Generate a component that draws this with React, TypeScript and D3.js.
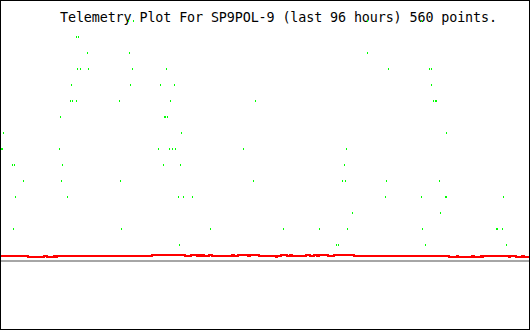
import React from "react";
import * as d3 from "d3";

const W = 530;
const H = 330;
const TITLE = "Telemetry Plot For SP9POL-9 (last 96 hours) 560 points.";

// Green telemetry samples: time (hours into the 96 h window) and level
const greenHours = [
  23.18, 24.09, 66.48, 76.26,
  13.77, 14.13,
  15.76, 23.37, 66.48,
  13.95, 14.49, 15.94, 23.91, 30.07, 70.28, 77.71, 78.07,
  12.86, 23.55, 28.98, 31.52, 78.07,
  12.68, 13.04, 13.77, 21.55, 30.79, 46.19, 78.43, 78.79, 78.97,
  10.87, 29.71, 29.89, 30.25,
  0.54, 32.79, 80.78,
  0.18, 0.36, 10.69, 28.62, 30.61, 31.15, 31.7, 44.02, 62.67,
  2.17, 2.54, 11.23, 29.52, 32.6, 62.31,
  4.17, 11.05, 21.74, 45.83, 61.95, 62.49, 69.92, 79.52,
  2.72, 12.14, 32.24, 33.15, 34.78, 69.74, 76.26, 80.6, 80.78, 91.11,
  63.76, 79.7,
  2.35, 21.92, 38.04, 51.26, 57.78, 62.85, 76.44, 89.84, 90.02, 90.93,
  32.42, 60.86, 61.22, 76.98, 91.66,
];
const greenLevels = [
  15, 15, 15, 15,
  14, 14,
  13, 13, 13,
  12, 12, 12, 12, 12, 12, 12, 12,
  11, 11, 11, 11, 11,
  10, 10, 10, 10, 10, 10, 10, 10, 10,
  9, 9, 9, 9,
  8, 8, 8,
  7, 7, 7, 7, 7, 7, 7, 7, 7,
  6, 6, 6, 6, 6, 6,
  5, 5, 5, 5, 5, 5, 5, 5,
  4, 4, 4, 4, 4, 4, 4, 4, 4, 4,
  3, 3,
  2, 2, 2, 2, 2, 2, 2, 2, 2, 2,
  1, 1, 1, 1, 1,
];

// Red series: step changes (hour at which the value starts)
const redHours = [
  0, 5.07, 7.97, 8.51, 9.78, 10.14, 10.32, 27.53, 33.51, 34.6, 35.68, 35.86,
  36.23, 36.59, 36.95, 37.86, 38.4, 42.02, 42.39, 43.11, 44.92, 45.28, 46.91,
  49.99, 50.17, 50.9, 51.98, 52.53, 52.89, 55.43, 56.15, 56.87, 57.42, 57.78,
  59.41, 60.5, 64.12, 81.33, 82.78, 82.96, 85.49, 85.86, 87.12, 87.31, 87.49,
  92.2, 92.38, 93.46, 94.55, 94.91, 96,
];
const N = 0.3125, L = 0.25, Hi = 0.375;
const redValues = [
  N, L, N, L, N, L, N, Hi, N, Hi, N, Hi,
  N, Hi, N, Hi, N, Hi, N, Hi, N, Hi, N,
  L, N, Hi, N, Hi, N, Hi, N, Hi, N, Hi,
  N, Hi, N, L, N, L, N, L, N, L, N,
  L, N, L, N, L, L,
];

const baseline = [0, 96];

export default function App() {
  const x = d3.scaleLinear().domain([0, 96]).range([0, W]);
  const y = d3.scaleLinear().domain([0, 16]).range([261, 5]);

  const redData = redHours.map((h, i) => [h, redValues[i]] as [number, number]);
  const redPath = d3
    .line<[number, number]>()
    .x((d) => x(d[0]))
    .y((d) => y(d[1]))
    .curve(d3.curveStepAfter)(redData) || "";

  const dots = greenHours.map((h, i) => ({ h, v: greenLevels[i] }));

  return (
    <svg
      width={W}
      height={H}
      style={{ position: "absolute", left: 0, top: 0, background: "#fff" }}
      shapeRendering="crispEdges"
    >
      <rect x={0} y={0} width={W} height={H} fill="#fff" />
      <defs>
        <clipPath id="plotClip">
          <rect x={1} y={1} width={W - 2} height={H - 2} />
        </clipPath>
      </defs>
      <g clipPath="url(#plotClip)">
        <line
          x1={x(baseline[0])}
          x2={x(baseline[1])}
          y1={y(0)}
          y2={y(0)}
          stroke="#a6a6a6"
          strokeWidth={2}
        />
        <path d={redPath} fill="none" stroke="#ff0000" strokeWidth={2} />
      </g>
      <text
        x={60}
        y={22}
        fontFamily="'DejaVu Sans Mono', monospace"
        fontSize={13.4}
        textLength={437}
        lengthAdjust="spacing"
        fill="#000"
      >
        {TITLE}
      </text>
      <g clipPath="url(#plotClip)">
        {dots.map((d, i) => (
          <rect
            key={i}
            x={Math.round(x(d.h))}
            y={y(d.v) - 1}
            width={1}
            height={2}
            fill="#00ff00"
          />
        ))}
      </g>
      <rect
        x={0.5}
        y={0.5}
        width={W - 1}
        height={H - 1}
        fill="none"
        stroke="#000"
        strokeWidth={1}
      />
    </svg>
  );
}
